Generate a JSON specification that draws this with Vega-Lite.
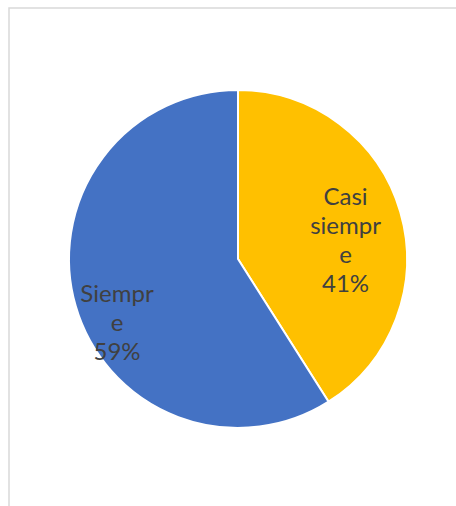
{
  "$schema": "https://vega.github.io/schema/vega-lite/v6.json",
  "autosize": {"type": "none"},
  "padding": {"left": 9, "top": 8, "right": 0, "bottom": 0},
  "width": 458,
  "height": 502,
  "background": "#ffffff",
  "config": {"view": {"stroke": null}},
  "data": {"values": [
    {"category": "Casi siempre", "value": 41, "label": "Casi\nsiempr\ne\n41%"},
    {"category": "Siempre", "value": 59, "label": "Siempr\ne\n59%"}
  ]},
  "layer": [
    {
      "data": {"values": [{"frame": 1}]},
      "mark": {"type": "rect", "fill": null, "stroke": "#d9d9d9", "strokeWidth": 1.5},
      "encoding": {}
    },
    {
      "mark": {"type": "arc", "outerRadius": 169, "stroke": "#ffffff", "strokeWidth": 2},
      "encoding": {
        "theta": {"field": "value", "type": "quantitative", "stack": true},
        "order": {"field": "category", "type": "nominal"},
        "color": {"field": "category", "type": "nominal",
          "scale": {"domain": ["Casi siempre", "Siempre"], "range": ["#FFC000", "#4472C4"]},
          "legend": null}
      }
    },
    {
      "mark": {"type": "text", "radius": 112, "dy": -30, "font": "Lato", "fontSize": 24, "fill": "#404040", "lineBreak": "\n", "lineHeight": 29, "align": "center", "baseline": "middle"},
      "encoding": {
        "theta": {"field": "value", "type": "quantitative", "stack": true},
        "order": {"field": "category", "type": "nominal"},
        "text": {"condition": {"test": "datum.category === 'Casi siempre'", "field": "label"}, "value": ""}
      }
    },
    {
      "mark": {"type": "text", "radius": 126, "dy": 1, "font": "Lato", "fontSize": 24, "fill": "#404040", "lineBreak": "\n", "lineHeight": 29, "align": "center", "baseline": "middle"},
      "encoding": {
        "theta": {"field": "value", "type": "quantitative", "stack": true},
        "order": {"field": "category", "type": "nominal"},
        "text": {"condition": {"test": "datum.category === 'Siempre'", "field": "label"}, "value": ""}
      }
    }
  ]
}
